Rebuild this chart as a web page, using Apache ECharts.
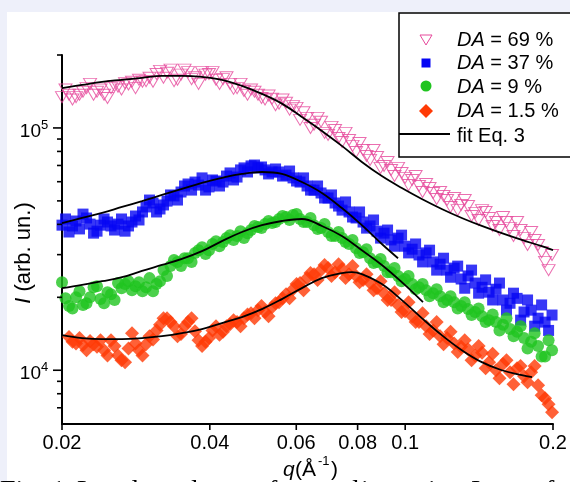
<!DOCTYPE html>
<html><head><meta charset="utf-8">
<script src="https://cdn.jsdelivr.net/npm/echarts@6/dist/echarts.min.js"></script>
<style>html,body{margin:0;padding:0;background:#eef0fa}#c{width:570px;height:482px}</style>
</head><body><div id="c"></div>
<script>
// ---- data (q in 1/Å, I in arb. units) ----
const qGrid = [0.02000,0.02067,0.02136,0.02207,0.02281,0.02357,0.02436,0.02517,0.02601,0.02688,
0.02777,0.02870,0.02966,0.03065,0.03167,0.03273,0.03382,0.03495,0.03612,0.03732,
0.03857,0.03985,0.04118,0.04256,0.04398,0.04545,0.04696,0.04853,0.05015,0.05183,
0.05356,0.05534,0.05719,0.05910,0.06107,0.06311,0.06522,0.06739,0.06964,0.07197,
0.07437,0.07685,0.07942,0.08207,0.08481,0.08764,0.09056,0.09358,0.09671,0.09994,
0.1033,0.1067,0.1103,0.1140,0.1178,0.1217,0.1258,0.1300,0.1343,0.1388,
0.1434,0.1482,0.1531,0.1582,0.1635,0.1690,0.1746,0.1805,0.1865,0.1927,
0.1991];
const qHalf = [0.02033,0.02101,0.02171,0.02244,0.02319,0.02396,0.02476,0.02559,0.02644,0.02732,
0.02823,0.02917,0.03015,0.03116,0.03219,0.03327,0.03438,0.03553,0.03672,0.03794,
0.03921,0.04051,0.04186,0.04326,0.04471,0.04620,0.04774,0.04933,0.05098,0.05269,
0.05445,0.05626,0.05814,0.06008,0.06208,0.06415,0.06630,0.06851,0.07079,0.07316,
0.07560,0.07812,0.08073,0.08343,0.08621,0.08909,0.09206,0.09513,0.09831,0.1016,
0.1050,0.1085,0.1121,0.1159,0.1197,0.1237,0.1279,0.1322,0.1365,0.1411,
0.1458,0.1507,0.1556,0.1608,0.1662,0.1718,0.1775,0.1835,0.1896,0.1959];

// DA = 69 %
const da69 = [134000,137000,134000,141000,152000,141000,137000,146000,148000,153000,
155000,158000,156000,155000,172000,169000,156000,166000,170000,162000,
170000,167000,158000,159000,152000,146000,142000,144000,137000,131000,
132000,126000,127000,123000,108000,110000,103000,106000,93600,98100,
87500,89200,79600,81100,73800,75900,69700,67100,68400,62200,
61000,57600,58700,53900,54400,50400,51400,48100,47600,44600,
45800,42500,40900,42900,38600,40900,35100,37200,32900,28000,
29900];
const da69b = [144000,131000,137000,146000,137000,144000,133000,149000,144000,151000,
146000,155000,161000,167000,161000,174000,158000,174000,159000,152000,
166000,170000,152000,162000,145000,152000,137000,141000,133000,136000,
124000,131000,119000,121000,116000,100000,110000,95400,101000,90900,
95400,84300,86700,76600,81100,68400,72400,63300,65200,58100,
63300,54400,56500,50900,52400,47200,45800,50400,43300,41700,
45000,39400,37900,40900,35800,37900,32900,34500,30700,25900];

// DA = 37 %
const da37 = [39700,37200,41300,44100,40100,37500,42100,39400,40100,37500,
40900,41700,47200,49000,46300,49900,52400,54400,58700,59800,
62200,57100,60400,59800,65200,62700,68400,69700,68400,67100,
65800,65800,63900,62200,59800,57600,55400,53900,51400,49000,
45800,45000,42500,40900,39400,37500,36800,34500,35100,32500,
31600,29900,30500,28000,27400,25900,26400,23800,24500,22900,
22000,21000,21600,19500,18900,19800,17400,17700,16400,15800,
16900];
const da37b = [42100,39400,38300,42500,36800,39700,40900,37900,42100,39400,
43300,45000,50400,45000,48100,52900,50400,57600,55400,58100,
55400,61000,57600,63300,61000,67100,65800,70300,69000,64600,
67700,63300,66400,60400,62200,55400,57600,51400,52900,47600,
49500,42900,45000,38600,41700,35100,37900,32500,36100,30500,
33200,28000,31300,25900,29000,24200,26900,21800,25900,20800,
23600,19500,22900,17700,20800,16100,19500,15200,18600,14600];

// DA = 9 %
const da9 = [23100,18400,20000,18600,20000,22200,18900,20600,22900,22700,
21400,23100,22000,21200,23300,24500,28500,26900,29000,30500,
32200,31300,34100,33800,36100,35800,35100,37900,39000,40100,
40500,42100,42900,43700,42100,40900,39700,38600,37200,35800,
35100,33200,31900,30700,29000,28000,26900,25400,24500,23800,
22700,22000,21400,20800,20200,19500,19100,18400,17900,17400,
16700,16100,15800,15400,14800,14400,13600,13100,12600,11400,
12100];
const da9b = [19800,18000,21200,18900,22000,19700,21000,19500,21800,23300,
22200,21200,24000,22700,25900,26900,28000,29000,28000,31300,
30200,33200,32500,35100,34500,37500,36800,39400,38600,41300,
40900,43300,41700,44100,40900,42500,38300,40100,35800,37200,
33800,34500,30500,31600,27700,28800,25400,26400,23300,24500,
21600,22700,20200,21600,19100,20200,18000,19100,16900,18000,
15800,17000,14600,16400,13800,15200,12300,14200,11400,13300];

// DA = 1.5 %
const da15 = [null,13700,12900,12700,13200,12500,12100,13300,11500,10800,
14200,12100,12800,13400,15400,16400,15200,14100,15800,14500,
12600,13600,15200,14400,15500,15800,16400,17200,17700,17400,
18200,19100,20600,21600,22900,24000,24900,25900,26400,25400,
26200,24900,24500,23600,22900,21800,20800,19500,18600,17500,
16700,15800,15200,14600,13800,13600,12900,12500,12200,11500,
11800,10800,10000,10600,9820,10200,9450,9820,8680,7670,
6710];
const da15b = [null,13100,13600,12100,12800,13300,11500,12600,11000,12300,
12900,11500,13800,14600,16400,15800,13800,15200,16400,13300,
13100,14600,14000,15200,16100,15200,17000,16400,18400,16700,
18900,19800,19800,22700,21400,25200,23600,27200,24500,27400,
24000,26900,23100,24900,21400,23300,19500,21000,17400,19100,
15800,17200,14100,15800,12800,14400,11900,13300,11000,12600,
10200,11700,9270,11000,8760,10400,8930,10400,7890,7240];

// fits (Eq. 3)
const fit69Q = [0.02,0.02197,0.02413,0.0265,0.0291,0.03196,0.0351,0.03855,0.04234,0.0465,0.05107,0.05609,0.0616,0.06766,0.07431,0.08161,0.08963,0.09844,0.1081,0.1187,0.1304,0.1432,0.1573,0.1728,0.1898,0.2];
const fit69 = [146000,150500,155000,158000,161000,164000,164000,162400,158000,149100,138200,126000,111000,97200,84300,72400,63300,56500,50900,46300,42500,39400,36800,34500,32500,31300];
const fit37Q = [0.02,0.02197,0.02413,0.0265,0.0291,0.03196,0.0351,0.03855,0.04234,0.0465,0.05107,0.05609,0.0616,0.06766,0.07431,0.08161,0.08963,0.0967];
const fit37 = [40500,42500,44600,47200,49900,52900,56000,59300,62200,64600,65800,64600,59800,53900,46700,39700,33200,29000];
const fit9Q = [0.02,0.02197,0.02413,0.0265,0.0291,0.03196,0.0351,0.03855,0.04234,0.0465,0.05107,0.05609,0.0616,0.06766,0.07431,0.08161,0.08963,0.09844,0.1087];
const fit9 = [21800,22500,23300,24200,25700,27200,28800,31000,34100,37200,39700,41300,42100,39400,35800,31300,27200,23100,19100];
const fit15Q = [0.02,0.02197,0.02413,0.0265,0.0291,0.03196,0.0351,0.03855,0.04234,0.0465,0.05107,0.05609,0.0616,0.06766,0.07431,0.0779,0.08161,0.08963,0.09844,0.1081,0.1187,0.1304,0.1432,0.1573,0.1728,0.1813];
const fit15 = [13960,13570,13440,13440,13570,13830,14230,14780,15650,16570,17880,19660,21830,24010,25180,25420,24940,22680,19470,16410,13960,12100,10800,10000,9540,9360];

// axis ticks
const xTickValues = [0.02,0.04,0.06,0.08,0.1,0.2];
const xTickLabels = ['0.02','0.04','0.06','0.08','0.1','0.2'];
const yMajorValues = [10000,100000];
const yMajorExp = ['4','5'];
const yMinorValues = [7000,8000,9000,20000,30000,40000,50000,60000,70000,80000,90000,200000];
const legendNames = ['69 %','37 %','9 %','1.5 %'];
const fitName = 'fit Eq. 3';

// ---- chart ----
const SANS = 'Liberation Sans';
const COLORS = ['#e64a9c','#0505f4','#1fc41f','#ff3a05'];

function pairs(qs, vs){
  const out = [];
  for (let i = 0; i < qs.length && i < vs.length; i++) if (vs[i] != null) out.push([qs[i], vs[i]]);
  return out;
}
function both(a, b){ return pairs(qGrid, a).concat(pairs(qHalf, b)).sort((p, q) => p[0] - q[0]); }

const chart = echarts.init(document.getElementById('c'), null, {renderer:'canvas'});
const axisCommon = {
  type:'log', logBase:10,
  axisLine:{show:true, onZero:false, lineStyle:{color:'#000', width:2}},
  axisTick:{show:false}, axisLabel:{show:false}, splitLine:{show:false},
  minorTick:{show:false}, minorSplitLine:{show:false}
};
const fitLine = (q, v) => ({
  type:'line', data:pairs(q, v), showSymbol:false, symbol:'none', smooth:0.4,
  lineStyle:{color:'#000', width:1.8}, z:5, silent:true
});
chart.setOption({
  animation:false,
  backgroundColor:'#eef0fa',
  grid:{left:62, right:17, top:55, bottom:58},
  xAxis:Object.assign({min:0.02, max:0.2}, axisCommon),
  yAxis:Object.assign({min:6000, max:200000}, axisCommon),
  series:[
    {type:'scatter', data:both(da69, da69b), symbol:'triangle', symbolRotate:180, symbolSize:[13,11],
     itemStyle:{color:'rgba(0,0,0,0)', borderColor:COLORS[0], borderWidth:1}, z:2},
    {type:'scatter', data:both(da37, da37b), symbol:'rect', symbolSize:11,
     itemStyle:{color:COLORS[1]}, z:2},
    {type:'scatter', data:both(da9, da9b), symbol:'circle', symbolSize:12,
     itemStyle:{color:COLORS[2]}, z:2},
    {type:'scatter', data:both(da15, da15b), symbol:'diamond', symbolSize:14,
     itemStyle:{color:COLORS[3]}, z:2},
    fitLine(fit69Q, fit69), fitLine(fit37Q, fit37), fitLine(fit9Q, fit9), fitLine(fit15Q, fit15)
  ]
});

function txt(x, y, text, size, opts){
  opts = opts || {};
  return {type:'text', x:x, y:y, rotation:opts.rotation || 0, z:60, silent:true,
    style:Object.assign({text:text, fill:'#000', fontSize:size, fontFamily:opts.family || SANS,
      fontStyle:opts.italic ? 'italic' : 'normal',
      align:opts.align || 'center', textAlign:opts.align || 'center',
      verticalAlign:'middle', textVerticalAlign:'middle'}, opts.extra || {})};
}

function build(){
  const P = (q, I) => chart.convertToPixel({seriesIndex:0}, [q, I]);
  const o = P(0.02, 6000);
  const x0 = o[0], y0 = o[1];
  const g = [];
  g.push({type:'rect', shape:{x:7, y:12, width:563, height:470}, style:{fill:'#ffffff'}, z:-100, silent:true});
  xTickValues.forEach((v, i) => {
    const p = P(v, 6000);
    g.push({type:'line', shape:{x1:p[0], y1:y0, x2:p[0], y2:y0 + 6}, style:{stroke:'#000', lineWidth:1.6}, z:50, silent:true});
    g.push(txt(p[0], y0 + 19, xTickLabels[i], 20));
  });
  yMinorValues.forEach(v => {
    const p = P(0.02, v);
    g.push({type:'line', shape:{x1:x0 - 5, y1:p[1], x2:x0, y2:p[1]}, style:{stroke:'#000', lineWidth:1.6}, z:50, silent:true});
  });
  yMajorValues.forEach((v, i) => {
    const p = P(0.02, v);
    g.push({type:'line', shape:{x1:x0 - 9, y1:p[1], x2:x0, y2:p[1]}, style:{stroke:'#000', lineWidth:1.6}, z:50, silent:true});
    g.push(txt(x0 - 21, p[1] + 4, '10', 19, {align:'right'}));
    g.push(txt(x0 - 21, p[1] - 3, yMajorExp[i], 13, {align:'left'}));
  });
  g.push(txt(24, 253, '{i|I} (arb. un.)', 22, {rotation:Math.PI / 2,
    extra:{rich:{i:{fontStyle:'italic', fontSize:22, fontFamily:SANS}}}}));
  // caption fragment (cut by the bottom edge)
  const cap = [['Fig. 1.', 0], ['Log-log', 77], ['plots', 177], ['of', 254], ['d', 345], ['intensity', 361], ['I', 471], ['of', 531]];
  cap.forEach(c => g.push(txt(c[1], 492, c[0], 28, {align:'left', family:'Liberation Serif'})));
  g.push({type:'rect', shape:{x:280, y:452, width:62, height:30}, style:{fill:'#ffffff'}, z:55, silent:true});
  g.push(txt(283, 470, 'q', 21, {align:'left', italic:true}));
  g.push(txt(295, 470, '(Å', 21, {align:'left'}));
  g.push(txt(318, 461, '-1', 13, {align:'left'}));
  g.push(txt(331, 470, ')', 21, {align:'left'}));
  // legend
  g.push({type:'rect', shape:{x:399, y:13, width:190, height:144}, style:{fill:'#fff', stroke:'#000', lineWidth:1.5}, z:70, silent:true});
  const rows = [40, 63.5, 87, 111, 136];
  const mx = 426;
  g.push({type:'polygon', shape:{points:[[mx - 6, rows[0] - 5], [mx + 6, rows[0] - 5], [mx, rows[0] + 5]]}, style:{fill:'none', stroke:COLORS[0], lineWidth:1}, z:71, silent:true});
  g.push({type:'rect', shape:{x:mx - 4.5, y:rows[1] - 5, width:9, height:9}, style:{fill:COLORS[1]}, z:71, silent:true});
  g.push({type:'circle', shape:{cx:mx, cy:rows[2] - 1, r:5.5}, style:{fill:COLORS[2]}, z:71, silent:true});
  g.push({type:'polygon', shape:{points:[[mx, rows[3] - 7], [mx + 7, rows[3]], [mx, rows[3] + 7], [mx - 7, rows[3]]]}, style:{fill:COLORS[3]}, z:71, silent:true});
  legendNames.forEach((n, i) => {
    g.push(Object.assign(txt(457, rows[i], '{i|DA} = ' + n, 20, {align:'left',
      extra:{rich:{i:{fontStyle:'italic', fontSize:20, fontFamily:SANS}}}}), {z:72}));
  });
  g.push({type:'line', shape:{x1:399, y1:134, x2:450, y2:134}, style:{stroke:'#000', lineWidth:2}, z:71, silent:true});
  g.push(Object.assign(txt(457, rows[4], fitName, 20, {align:'left'}), {z:72}));
  chart.setOption({graphic:{elements:g}});
}
build();
</script>
</body></html>
